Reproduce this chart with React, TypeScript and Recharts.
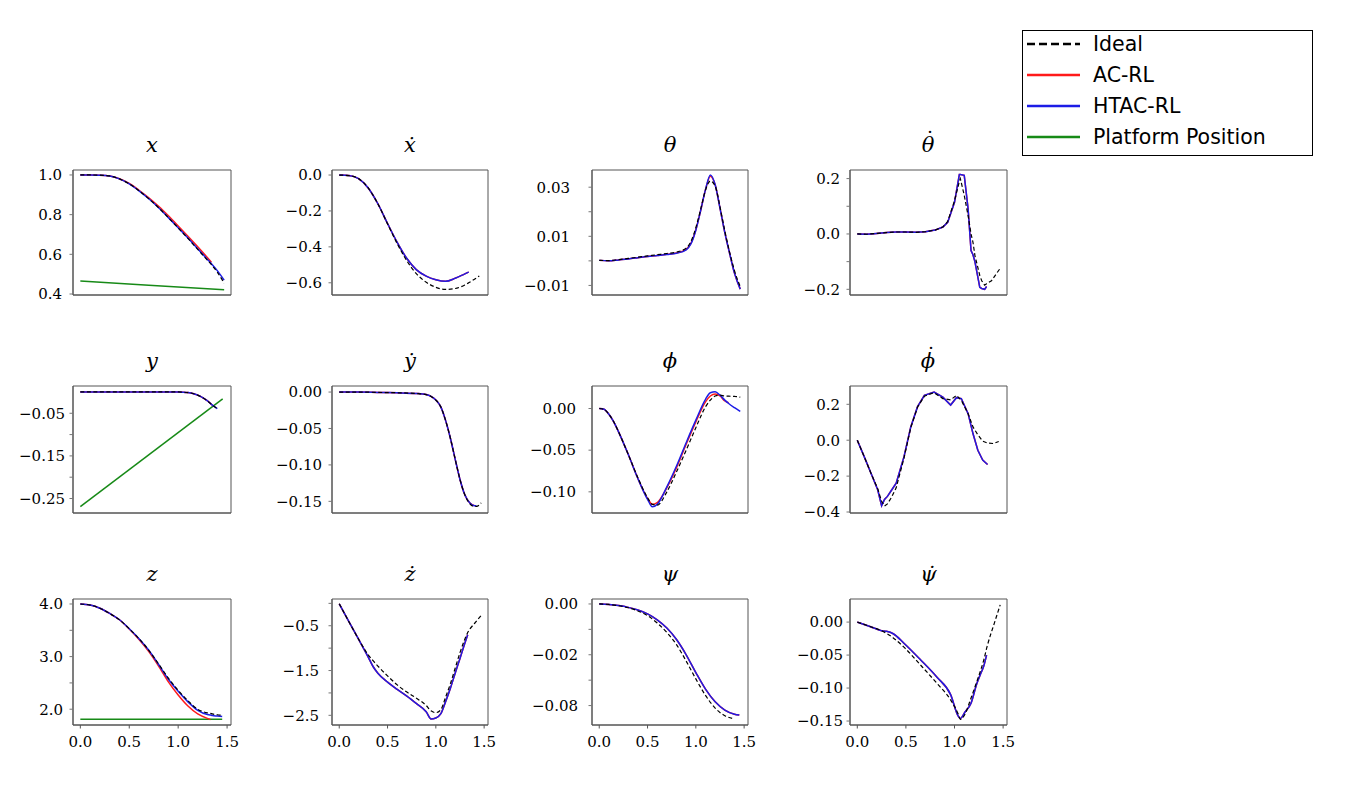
import React from 'react';
import { LineChart, Line, XAxis, YAxis, ReferenceArea } from 'recharts';

type V = number | null;

// ---------- data: x ----------
const tX = [0, 0.1, 0.2, 0.3, 0.4, 0.5, 0.6, 0.7, 0.8, 0.9, 1.0, 1.1, 1.2, 1.3, 1.34, 1.4, 1.47];
const xIdeal: V[] = [1.0, 1.0, 0.999, 0.995, 0.98, 0.955, 0.92, 0.88, 0.835, 0.785, 0.733, 0.68, 0.625, 0.57, 0.548, 0.51, 0.455];
const xAC: V[] = [1.0, 1.0, 0.999, 0.995, 0.981, 0.957, 0.923, 0.885, 0.842, 0.794, 0.743, 0.691, 0.638, 0.583, 0.56, null, null];
const xHTAC: V[] = [1.0, 1.0, 0.999, 0.995, 0.98, 0.955, 0.92, 0.88, 0.835, 0.785, 0.734, 0.682, 0.628, 0.574, 0.553, 0.518, 0.47];
const xPlatform: V[] = [0.465, null, null, null, null, null, null, 0.444, null, null, null, null, null, null, null, null, 0.422];

// ---------- data: x dot ----------
const tXd = [0, 0.1, 0.2, 0.3, 0.4, 0.5, 0.6, 0.7, 0.8, 0.9, 1.0, 1.1, 1.2, 1.3, 1.34, 1.4, 1.45];
const xdIdeal: V[] = [0, -0.003, -0.02, -0.072, -0.16, -0.272, -0.382, -0.478, -0.55, -0.597, -0.625, -0.637, -0.632, -0.612, -0.6, -0.58, -0.562];
const xdAC: V[] = [0, -0.003, -0.02, -0.072, -0.16, -0.27, -0.375, -0.465, -0.528, -0.563, -0.583, -0.592, -0.575, -0.55, -0.54, null, null];
const xdHTAC: V[] = [0, -0.003, -0.02, -0.072, -0.16, -0.27, -0.375, -0.465, -0.528, -0.563, -0.583, -0.592, -0.575, -0.55, -0.54, null, null];

// ---------- data: theta ----------
const tTh = [0, 0.1, 0.2, 0.3, 0.4, 0.5, 0.6, 0.7, 0.8, 0.9, 0.95, 1.0, 1.05, 1.1, 1.15, 1.2, 1.25, 1.3, 1.35, 1.4, 1.46];
const thIdeal: V[] = [0.0002, 0.0001, 0.0005, 0.001, 0.0015, 0.002, 0.0025, 0.003, 0.0036, 0.0052, 0.008, 0.0135, 0.021, 0.0288, 0.0325, 0.0305, 0.022, 0.0122, 0.0035, -0.004, -0.0105];
const thAC: V[] = [0.0002, 0.0, 0.0004, 0.0008, 0.0013, 0.0018, 0.0022, 0.0027, 0.0032, 0.0047, 0.0072, 0.0127, 0.0205, 0.029, 0.0345, 0.031, 0.0215, 0.0115, 0.003, -0.005, -0.0115];
const thHTAC: V[] = [0.0002, 0.0, 0.0004, 0.0008, 0.0013, 0.0018, 0.0022, 0.0026, 0.0031, 0.0045, 0.007, 0.0125, 0.0205, 0.029, 0.035, 0.031, 0.0215, 0.0115, 0.003, -0.005, -0.0115];

// ---------- data: theta dot ----------
const tThd = [0, 0.1, 0.2, 0.3, 0.4, 0.5, 0.6, 0.7, 0.8, 0.88, 0.93, 1.0, 1.05, 1.06, 1.1, 1.14, 1.17, 1.19, 1.21, 1.26, 1.28, 1.31, 1.33, 1.38, 1.47];
const thdIdeal: V[] = [0, -0.001, 0.002, 0.005, 0.007, 0.007, 0.006, 0.008, 0.014, 0.025, 0.045, 0.12, 0.19, 0.2, 0.14, 0.066, 0.0, -0.03, -0.078, -0.15, -0.169, -0.185, -0.18, -0.169, -0.124];
const thdAC: V[] = [0, -0.001, 0.002, 0.005, 0.007, 0.007, 0.006, 0.008, 0.014, 0.025, 0.042, 0.114, 0.215, 0.215, 0.212, 0.09, -0.06, -0.075, -0.1, -0.193, -0.197, -0.2, -0.19, null, null];
const thdHTAC: V[] = [0, -0.001, 0.002, 0.005, 0.007, 0.007, 0.006, 0.008, 0.014, 0.025, 0.042, 0.114, 0.215, 0.215, 0.212, 0.09, -0.06, -0.075, -0.1, -0.193, -0.197, -0.2, -0.19, null, null];

// ---------- data: y ----------
const tY = [0, 0.2, 0.4, 0.6, 0.8, 1.0, 1.05, 1.1, 1.15, 1.2, 1.25, 1.3, 1.35, 1.4, 1.455, 1.47];
const yIdeal: V[] = [0, 0, 0, 0, 0, 0, -0.0005, -0.0015, -0.0035, -0.0075, -0.0135, -0.021, -0.031, -0.039, null, -0.05];
const yAC: V[] = [0, 0, 0, 0, 0, 0, -0.0005, -0.0015, -0.0035, -0.0075, -0.0135, -0.021, -0.031, null, null, null];
const yHTAC: V[] = [0, 0, 0, 0, 0, 0, -0.0005, -0.0015, -0.0035, -0.0075, -0.0135, -0.021, -0.031, -0.039, null, -0.05];
const yPlatform: V[] = [-0.269, null, null, null, null, null, null, null, null, null, null, null, null, null, -0.016, null];

// ---------- data: y dot ----------
const tYd = [0, 0.2, 0.4, 0.6, 0.8, 0.9, 0.95, 1.0, 1.05, 1.1, 1.15, 1.2, 1.25, 1.3, 1.35, 1.4, 1.42, 1.47];
const ydIdeal: V[] = [0, 0, -0.0005, -0.001, -0.002, -0.0035, -0.006, -0.011, -0.02, -0.0385, -0.063, -0.092, -0.12, -0.141, -0.153, -0.157, -0.157, -0.152];
const ydAC: V[] = [0, 0, -0.0005, -0.001, -0.002, -0.0035, -0.006, -0.011, -0.02, -0.0385, -0.063, -0.092, -0.12, -0.141, -0.152, -0.156, null, null];
const ydHTAC: V[] = [0, 0, -0.0005, -0.001, -0.002, -0.0035, -0.006, -0.011, -0.02, -0.0385, -0.063, -0.092, -0.12, -0.141, -0.152, -0.156, -0.156, null];

// ---------- data: phi ----------
const tPh = [0, 0.05, 0.1, 0.15, 0.2, 0.3, 0.4, 0.5, 0.55, 0.6, 0.7, 0.8, 0.9, 1.0, 1.1, 1.15, 1.2, 1.25, 1.3, 1.34, 1.4, 1.46];
const phIdeal: V[] = [0, -0.001, -0.007, -0.016, -0.028, -0.055, -0.083, -0.107, -0.115, -0.116, -0.1, -0.076, -0.05, -0.023, 0.002, 0.01, 0.015, 0.016, 0.015, 0.0148, 0.0145, 0.0135];
const phAC: V[] = [0, -0.001, -0.007, -0.016, -0.028, -0.055, -0.084, -0.108, -0.115, -0.113, -0.095, -0.071, -0.043, -0.016, 0.008, 0.015, 0.0175, 0.015, 0.009, 0.007, null, null];
const phHTAC: V[] = [0, -0.001, -0.007, -0.016, -0.028, -0.055, -0.084, -0.109, -0.118, -0.115, -0.094, -0.069, -0.041, -0.014, 0.011, 0.019, 0.02, 0.016, 0.01, 0.006, 0.001, -0.0035];

// ---------- data: phi dot ----------
const tPhd = [0, 0.07, 0.14, 0.21, 0.25, 0.28, 0.31, 0.35, 0.4, 0.48, 0.55, 0.62, 0.69, 0.79, 0.88, 0.96, 1.02, 1.07, 1.14, 1.19, 1.24, 1.29, 1.34, 1.4, 1.455];
const phdIdeal: V[] = [0, -0.09, -0.183, -0.27, -0.34, -0.367, -0.355, -0.32, -0.265, -0.1, 0.07, 0.185, 0.245, 0.265, 0.232, 0.225, 0.25, 0.222, 0.148, 0.074, 0.03, -0.005, -0.016, -0.0185, -0.0075];
const phdAC: V[] = [0, -0.09, -0.183, -0.276, -0.365, -0.33, -0.313, -0.28, -0.24, -0.093, 0.074, 0.187, 0.25, 0.268, 0.24, 0.196, 0.237, 0.232, 0.148, 0.037, -0.056, -0.111, -0.135, null, null];
const phdHTAC: V[] = [0, -0.09, -0.183, -0.276, -0.365, -0.33, -0.313, -0.28, -0.24, -0.093, 0.074, 0.187, 0.25, 0.268, 0.24, 0.196, 0.237, 0.232, 0.148, 0.037, -0.056, -0.111, -0.135, null, null];

// ---------- data: z ----------
const tZ = [0, 0.1, 0.2, 0.3, 0.4, 0.5, 0.6, 0.7, 0.8, 0.9, 1.0, 1.1, 1.2, 1.3, 1.33, 1.35, 1.4, 1.45];
const zIdeal: V[] = [4.0, 3.98, 3.92, 3.82, 3.7, 3.53, 3.34, 3.12, 2.86, 2.59, 2.36, 2.16, 2.0, 1.93, 1.92, 1.91, 1.895, 1.885];
const zAC: V[] = [4.0, 3.98, 3.92, 3.82, 3.7, 3.525, 3.325, 3.095, 2.82, 2.52, 2.27, 2.06, 1.91, 1.825, 1.805, null, null, null];
const zHTAC: V[] = [4.0, 3.98, 3.92, 3.82, 3.7, 3.53, 3.34, 3.12, 2.85, 2.57, 2.34, 2.14, 1.98, 1.9, 1.89, 1.88, 1.87, 1.86];
const zPlatform: V[] = [1.81, null, null, null, null, null, null, null, null, null, null, null, null, null, null, null, null, 1.81];

// ---------- data: z dot ----------
const tZd = [0, 0.1, 0.2, 0.3, 0.35, 0.4, 0.5, 0.6, 0.7, 0.8, 0.9, 0.95, 1.0, 1.05, 1.1, 1.15, 1.2, 1.25, 1.3, 1.33, 1.35, 1.4, 1.47];
const zdIdeal: V[] = [-0.01, -0.41, -0.8, -1.15, -1.28, -1.4, -1.62, -1.82, -1.98, -2.12, -2.28, -2.4, -2.44, -2.38, -2.1, -1.8, -1.45, -1.1, -0.8, -0.65, -0.58, -0.45, -0.27];
const zdAC: V[] = [-0.01, -0.41, -0.8, -1.2, -1.41, -1.56, -1.76, -1.92, -2.07, -2.24, -2.42, -2.58, -2.56, -2.47, -2.2, -1.9, -1.56, -1.23, -0.89, -0.7, null, null, null];
const zdHTAC: V[] = [-0.01, -0.41, -0.8, -1.2, -1.41, -1.56, -1.76, -1.92, -2.07, -2.24, -2.42, -2.58, -2.56, -2.47, -2.2, -1.9, -1.56, -1.23, -0.89, -0.7, null, null, null];

// ---------- data: psi ----------
const tPs = [0, 0.1, 0.2, 0.3, 0.4, 0.5, 0.6, 0.7, 0.8, 0.9, 1.0, 1.1, 1.2, 1.3, 1.4, 1.45, 1.46];
const psIdeal: V[] = [0, -0.0004, -0.0014, -0.003, -0.0055, -0.0092, -0.015, -0.0225, -0.032, -0.045, -0.059, -0.072, -0.082, -0.088, -0.0905, null, -0.091];
const psAC: V[] = [0, -0.0004, -0.0013, -0.0027, -0.0048, -0.0078, -0.0125, -0.019, -0.028, -0.04, -0.054, -0.067, -0.077, -0.0835, -0.0868, -0.0875, null];
const psHTAC: V[] = [0, -0.0004, -0.0013, -0.0027, -0.0048, -0.0078, -0.0125, -0.019, -0.028, -0.04, -0.054, -0.067, -0.077, -0.0835, -0.0868, -0.0875, null];

// ---------- data: psi dot ----------
const tPsd = [0, 0.13, 0.25, 0.3, 0.37, 0.48, 0.65, 0.82, 0.96, 1.04, 1.06, 1.11, 1.17, 1.23, 1.27, 1.3, 1.33, 1.34, 1.41, 1.47];
const psdIdeal: V[] = [0, -0.0066, -0.013, -0.017, -0.024, -0.038, -0.065, -0.093, -0.118, -0.14, -0.1475, -0.139, -0.115, -0.09, -0.0725, -0.058, -0.04, -0.0345, -0.0015, 0.026];
const psdAC: V[] = [0, -0.0066, -0.013, -0.014, -0.0177, -0.032, -0.057, -0.0836, -0.11, -0.143, -0.146, -0.136, -0.123, -0.093, -0.078, -0.067, -0.05, null, null, null];
const psdHTAC: V[] = [0, -0.0066, -0.013, -0.014, -0.0177, -0.032, -0.057, -0.0836, -0.11, -0.143, -0.146, -0.136, -0.123, -0.093, -0.078, -0.067, -0.05, null, null, null];

// ---------- ticks / labels ----------
const xTicks = [0, 0.5, 1.0, 1.5];
const xTickLabels = ['0.0', '0.5', '1.0', '1.5'];

// title letter, and whether a dot (time derivative) sits above it
const titleBases = ['x', 'x\u0307', '\u03b8', '\u03b8', 'y', 'y\u0307', '\u03d5', '\u03d5', 'z', 'z\u0307', '\u03c8', '\u03c8\u0307'];
const titleSeparateDot = [false, false, false, true, false, false, false, true, false, false, false, false];
const legendNames = ['Ideal', 'AC-RL', 'HTAC-RL', 'Platform Position'];

// ---------- styling / layout ----------
const C_IDEAL = '#000000';
const C_AC = '#ff1a1a';
const C_HTAC = '#1c1ce6';
const C_PLAT = '#178a17';
const FRAME = '#555555';
const TICKFONT = "'DejaVu Serif', serif";
const TITLEFONT = "'DejaVu Serif', serif";
const TICKSIZE = 15;

const colLeft = [73, 332, 592, 850];
const colWidth = [158, 156, 156, 157];
const rowTop = [170, 386, 599];
const rowHeight = [125, 127, 126];
const X_DOMAIN: [number, number] = [-0.075, 1.54];

type Panel = {
  t: number[];
  ideal: V[];
  ac: V[];
  htac: V[];
  plat?: V[];
  yDomain: [number, number];
  yTicks: number[];
  yLabels: string[];
  gap: number;
  linear?: boolean;
};

const panels: Panel[] = [
  { t: tX, ideal: xIdeal, ac: xAC, htac: xHTAC, plat: xPlatform, yDomain: [0.395, 1.025], yTicks: [1.0, 0.8, 0.6, 0.4], yLabels: ['1.0', '0.8', '0.6', '0.4'], gap: 11 },
  { t: tXd, ideal: xdIdeal, ac: xdAC, htac: xdHTAC, yDomain: [-0.668, 0.028], yTicks: [0, -0.2, -0.4, -0.6], yLabels: ['0.0', '\u22120.2', '\u22120.4', '\u22120.6'], gap: 10 },
  { t: tTh, ideal: thIdeal, ac: thAC, htac: thHTAC, yDomain: [-0.0139, 0.037], yTicks: [0.03, 0.02, 0.01, 0, -0.01], yLabels: ['0.03', '', '0.01', '', '\u22120.01'], gap: 22 },
  { t: tThd, ideal: thdIdeal, ac: thdAC, htac: thdHTAC, yDomain: [-0.2205, 0.231], yTicks: [0.2, 0.1, 0, -0.1, -0.2], yLabels: ['0.2', '', '0.0', '', '\u22120.2'], gap: 10, linear: true },
  { t: tY, ideal: yIdeal, ac: yAC, htac: yHTAC, plat: yPlatform, yDomain: [-0.284, 0.014], yTicks: [-0.05, -0.1, -0.15, -0.2, -0.25], yLabels: ['\u22120.05', '', '\u22120.15', '', '\u22120.25'], gap: 8 },
  { t: tYd, ideal: ydIdeal, ac: ydAC, htac: ydHTAC, yDomain: [-0.166, 0.0083], yTicks: [0, -0.05, -0.1, -0.15], yLabels: ['0.00', '\u22120.05', '\u22120.10', '\u22120.15'], gap: 10 },
  { t: tPh, ideal: phIdeal, ac: phAC, htac: phHTAC, yDomain: [-0.1254, 0.027], yTicks: [0, -0.05, -0.1], yLabels: ['0.00', '\u22120.05', '\u22120.10'], gap: 16 },
  { t: tPhd, ideal: phdIdeal, ac: phdAC, htac: phdHTAC, yDomain: [-0.4055, 0.302], yTicks: [0.2, 0, -0.2, -0.4], yLabels: ['0.2', '0.0', '\u22120.2', '\u22120.4'], gap: 10, linear: true },
  { t: tZ, ideal: zIdeal, ac: zAC, htac: zHTAC, plat: zPlatform, yDomain: [1.7, 4.095], yTicks: [4.0, 3.5, 3.0, 2.5, 2.0], yLabels: ['4.0', '', '3.0', '', '2.0'], gap: 10 },
  { t: tZd, ideal: zdIdeal, ac: zdAC, htac: zdHTAC, yDomain: [-2.716, 0.097], yTicks: [0, -0.5, -1.0, -1.5, -2.0, -2.5], yLabels: ['', '\u22120.5', '', '\u22121.5', '', '\u22122.5'], gap: 13 },
  { t: tPs, ideal: psIdeal, ac: psAC, htac: psHTAC, yDomain: [-0.0953, 0.0039], yTicks: [0, -0.02, -0.04, -0.06, -0.08], yLabels: ['0.00', '', '\u22120.02', '', '\u22120.08'], gap: 14 },
  { t: tPsd, ideal: psdIdeal, ac: psdAC, htac: psdHTAC, yDomain: [-0.156, 0.035], yTicks: [0, -0.05, -0.1, -0.15], yLabels: ['0.00', '\u22120.05', '\u22120.10', '\u22120.15'], gap: 7 },
];

const LEFT_SPACE = 70;
const TOP_SPACE = 5;
const RIGHT_SPACE = 25;
const BOTTOM_SPACE = 40;

function PanelChart({ p, idx }: { p: Panel; idx: number }) {
  const col = idx % 4;
  const row = Math.floor(idx / 4);
  const showX = row === 2;
  const w = colWidth[col] + LEFT_SPACE + RIGHT_SPACE;
  const h = rowHeight[row] + TOP_SPACE + BOTTOM_SPACE;
  const data = p.t.map((tt, i) => ({
    t: tt,
    ideal: p.ideal[i],
    ac: p.ac[i],
    htac: p.htac[i],
    plat: p.plat ? p.plat[i] : null,
  }));
  const curve = p.linear ? 'linear' : 'monotone';
  return (
    <div style={{ position: 'absolute', left: colLeft[col] - LEFT_SPACE, top: rowTop[row] - TOP_SPACE }}>
      <LineChart width={w} height={h} data={data} margin={{ top: TOP_SPACE, right: RIGHT_SPACE, bottom: 0, left: 0 }}>
        <XAxis
          dataKey="t"
          type="number"
          domain={X_DOMAIN}
          allowDataOverflow
          ticks={xTicks}
          interval={0}
          height={BOTTOM_SPACE}
          axisLine={{ stroke: FRAME }}
          tick={showX ? { fill: '#000', fontSize: TICKSIZE, fontFamily: TICKFONT } : false}
          tickLine={showX ? { stroke: FRAME } : false}
          tickSize={3.5}
          tickMargin={8}
          tickFormatter={(v: number) => xTickLabels[xTicks.indexOf(v)] ?? ''}
        />
        <YAxis
          type="number"
          domain={p.yDomain}
          allowDataOverflow
          ticks={p.yTicks}
          interval={0}
          width={LEFT_SPACE}
          axisLine={{ stroke: FRAME }}
          tickLine={{ stroke: '#777' }}
          tickSize={3.5}
          tickMargin={p.gap - 3.5}
          tick={{ fill: '#000', fontSize: TICKSIZE, fontFamily: TICKFONT }}
          tickFormatter={(v: number) => p.yLabels[p.yTicks.indexOf(v)] ?? ''}
        />
        <ReferenceArea
          x1={X_DOMAIN[0]}
          x2={X_DOMAIN[1]}
          y1={p.yDomain[0]}
          y2={p.yDomain[1]}
          fill="none"
          fillOpacity={0}
          stroke={FRAME}
          strokeWidth={1}
          ifOverflow="visible"
        />
        {p.plat && (
          <Line dataKey="plat" type="linear" stroke={C_PLAT} strokeWidth={1.5} dot={false} connectNulls isAnimationActive={false} />
        )}
        <Line dataKey="ac" type={curve} stroke={C_AC} strokeWidth={1.5} dot={false} isAnimationActive={false} />
        <Line dataKey="htac" type={curve} stroke={C_HTAC} strokeWidth={1.5} dot={false} isAnimationActive={false} />
        <Line dataKey="ideal" type={curve} stroke={C_IDEAL} strokeWidth={1.2} strokeDasharray="4 2.5" dot={false} isAnimationActive={false} />
      </LineChart>
    </div>
  );
}

const legendColors = [C_IDEAL, C_AC, C_HTAC, C_PLAT];

export default function App() {
  return (
    <div style={{ position: 'absolute', left: 0, top: 0, width: 1358, height: 788, background: '#fff', overflow: 'hidden' }}>
      {panels.map((p, i) => (
        <PanelChart key={i} p={p} idx={i} />
      ))}
      <svg width={1358} height={788} style={{ position: 'absolute', left: 0, top: 0, pointerEvents: 'none' }}>
        {titleBases.map((tt, i) => {
          const col = i % 4;
          const row = Math.floor(i / 4);
          const cx = colLeft[col] + colWidth[col] / 2;
          const by = rowTop[row] - 18;
          return (
            <text key={i} x={cx} y={by} textAnchor="middle" fontFamily={TITLEFONT} fontStyle="italic" fontSize={21} fill="#000">
              {tt}
              {titleSeparateDot[i] && (
                <tspan dx={-9.5} dy={-6} fontStyle="normal">
                  {'\u02d9'}
                </tspan>
              )}
            </text>
          );
        })}
        <rect x={1022.5} y={30.5} width={290} height={125} fill="#fff" stroke="#000" strokeWidth={1} />
        {legendNames.map((n, i) => {
          const y = 44 + i * 31;
          return (
            <g key={n}>
              <line x1={1027} x2={1080} y1={y} y2={y} stroke={legendColors[i]} strokeWidth={2.5} strokeDasharray={i === 0 ? '8 4' : undefined} />
              <text x={1093} y={y + 7} fontFamily="'DejaVu Sans', sans-serif" fontSize={20.5} fill="#000">
                {n}
              </text>
            </g>
          );
        })}
      </svg>
    </div>
  );
}
